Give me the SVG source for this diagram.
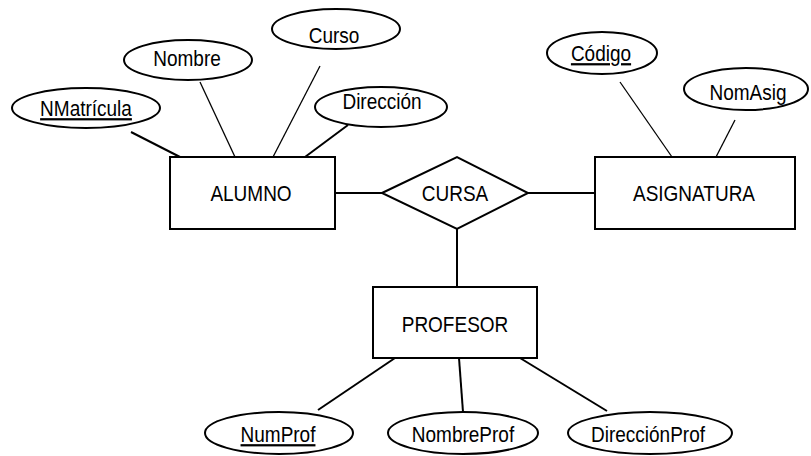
<svg xmlns="http://www.w3.org/2000/svg" width="811" height="456" viewBox="0 0 811 456">
<style>
  .shape { fill: #fff; stroke: #000; stroke-width: 2; }
  .lbl { font-family: "Liberation Sans", Arial, sans-serif; font-size: 19px; fill: #000; text-anchor: middle; }
  .key { text-decoration: underline; }
  .conn line { stroke: #000; stroke-width: 2; }
  .conn line.thin { stroke-width: 1.3; }
</style>
<rect width="811" height="456" fill="#fff"/>
<g id="connectors" class="conn">
  <line x1="131" y1="132" x2="180" y2="157"/>
  <line class="thin" x1="200" y1="82" x2="235" y2="157"/>
  <line class="thin" x1="320" y1="66" x2="273" y2="157"/>
  <line x1="348" y1="125" x2="305" y2="157"/>
  <line x1="335" y1="193" x2="382" y2="193"/>
  <line x1="528" y1="193" x2="595" y2="193"/>
  <line class="thin" x1="620" y1="82" x2="672" y2="157"/>
  <line class="thin" x1="735" y1="120" x2="716" y2="157"/>
  <line x1="457" y1="229" x2="457" y2="287"/>
  <line x1="395" y1="358" x2="318" y2="410"/>
  <line x1="459" y1="358" x2="463" y2="412"/>
  <line x1="520" y1="358" x2="607" y2="411"/>
</g>
<g id="alumno">
  <rect class="shape" x="170" y="157" width="165" height="72"/>
  <text class="lbl" transform="translate(251,201) scale(1,1.18)">ALUMNO</text>
</g>
<g id="asignatura">
  <rect class="shape" x="595" y="157" width="200" height="72"/>
  <text class="lbl" transform="translate(694,201) scale(1,1.18)">ASIGNATURA</text>
</g>
<g id="profesor">
  <rect class="shape" x="373" y="287" width="164" height="71"/>
  <text class="lbl" transform="translate(455,332) scale(1,1.18)">PROFESOR</text>
</g>
<g id="cursa">
  <polygon class="shape" points="382,193 457,157 528,193 457,229"/>
  <text class="lbl" transform="translate(455,201) scale(1,1.18)">CURSA</text>
</g>
<g id="nmatricula">
  <ellipse class="shape" cx="86" cy="108" rx="74" ry="20"/>
  <text class="lbl key" transform="translate(86,116) scale(1,1.18)">NMatrícula</text>
</g>
<g id="nombre">
  <ellipse class="shape" cx="188" cy="60" rx="64" ry="20"/>
  <text class="lbl" transform="translate(187,66) scale(1,1.18)">Nombre</text>
</g>
<g id="curso">
  <ellipse class="shape" cx="336" cy="29" rx="64" ry="20"/>
  <text class="lbl" transform="translate(334,43) scale(1,1.18)">Curso</text>
</g>
<g id="direccion">
  <ellipse class="shape" cx="381" cy="107" rx="66" ry="20"/>
  <text class="lbl" transform="translate(382,109) scale(1,1.18)">Dirección</text>
</g>
<g id="codigo">
  <ellipse class="shape" cx="602" cy="53" rx="55" ry="21"/>
  <text class="lbl key" transform="translate(601,61) scale(1,1.18)">Código</text>
</g>
<g id="nomasig">
  <ellipse class="shape" cx="746" cy="89" rx="62" ry="21"/>
  <text class="lbl" transform="translate(748,100) scale(1,1.18)">NomAsig</text>
</g>
<g id="numprof">
  <ellipse class="shape" cx="279" cy="433" rx="74" ry="21"/>
  <text class="lbl key" transform="translate(278,442) scale(1,1.18)">NumProf</text>
</g>
<g id="nombreprof">
  <ellipse class="shape" cx="463" cy="433" rx="75" ry="21"/>
  <text class="lbl" transform="translate(463,442) scale(1,1.18)">NombreProf</text>
</g>
<g id="direccionprof">
  <ellipse class="shape" cx="650" cy="433" rx="82" ry="21"/>
  <text class="lbl" transform="translate(648,442) scale(1,1.18)">DirecciónProf</text>
</g>
</svg>
